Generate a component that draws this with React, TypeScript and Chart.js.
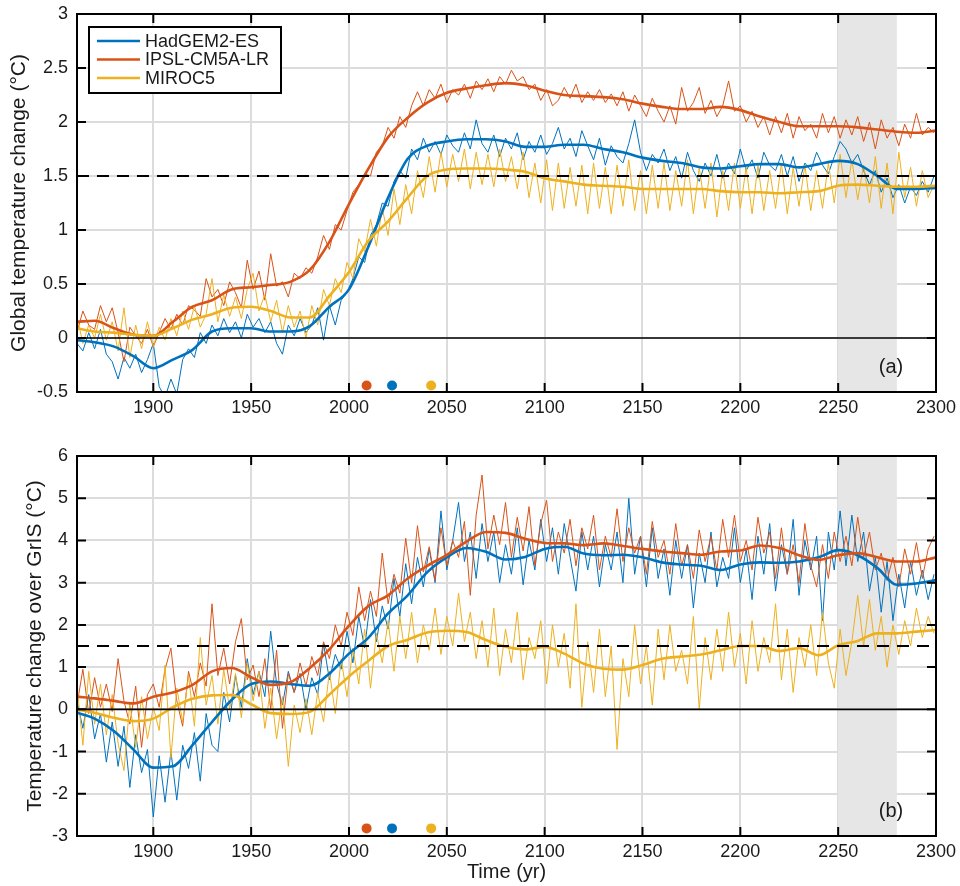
import React, { useEffect, useRef } from "react";
import { Chart, registerables } from "chart.js";

Chart.register(...registerables);

const FONT = "'Liberation Sans', Arial, Helvetica, sans-serif";
const BLUE = "#0072BD";
const RED = "#D95319";
const YELLOW = "#EDB120";

const models = ["HadGEM2-ES", "IPSL-CM5A-LR", "MIROC5"];
const modelColors = [BLUE, RED, YELLOW];

const xTickValues = [1900, 1950, 2000, 2050, 2100, 2150, 2200, 2250, 2300];
const yTicksA = [-0.5, 0, 0.5, 1, 1.5, 2, 2.5, 3];
const yTicksB = [-3, -2, -1, 0, 1, 2, 3, 4, 5, 6];

// years at which each model crosses 1.5 degC (HadGEM2-ES, IPSL-CM5A-LR, MIROC5)
const crossYears = [2022, 2009, 2042];
const thresholdLevel = 1.5;
const evalPeriod = [2250, 2280];

const thinYears = [
  1861, 1864, 1867, 1870, 1873, 1876, 1879, 1882, 1885, 1888,
  1891, 1894, 1897, 1900, 1903, 1906, 1909, 1912, 1915, 1918,
  1921, 1924, 1927, 1930, 1933, 1936, 1939, 1942, 1945, 1948,
  1951, 1954, 1957, 1960, 1963, 1966, 1969, 1972, 1975, 1978,
  1981, 1984, 1987, 1990, 1993, 1996, 1999, 2002, 2005, 2008,
  2011, 2014, 2017, 2020, 2023, 2026, 2029, 2032, 2035, 2038,
  2041, 2044, 2047, 2050, 2053, 2056, 2059, 2062, 2065, 2068,
  2071, 2074, 2077, 2080, 2083, 2086, 2089, 2092, 2095, 2098,
  2101, 2104, 2107, 2110, 2113, 2116, 2119, 2122, 2125, 2128,
  2131, 2134, 2137, 2140, 2143, 2146, 2149, 2152, 2155, 2158,
  2161, 2164, 2167, 2170, 2173, 2176, 2179, 2182, 2185, 2188,
  2191, 2194, 2197, 2200, 2203, 2206, 2209, 2212, 2215, 2218,
  2221, 2224, 2227, 2230, 2233, 2236, 2239, 2242, 2245, 2248,
  2251, 2254, 2257, 2260, 2263, 2266, 2269, 2272, 2275, 2278,
  2281, 2284, 2287, 2290, 2293, 2296, 2299,
];

const smoothYears = [
  1861, 1870, 1880, 1890, 1900, 1910, 1920, 1930, 1940, 1950,
  1960, 1970, 1980, 1990, 2000, 2010, 2020, 2030, 2040, 2050,
  2060, 2070, 2080, 2090, 2100, 2110, 2120, 2130, 2140, 2150,
  2160, 2170, 2180, 2190, 2200, 2210, 2220, 2230, 2240, 2250,
  2260, 2270, 2280, 2290, 2300,
];

// ---------- Panel (a): global temperature change ----------
const aHadThin = [
  -0.05, -0.12, 0.05, -0.10, 0.08, -0.15, -0.22, -0.38, -0.18, -0.28,
  -0.15, -0.32, -0.20, -0.05, -0.45, -0.55, -0.38, -0.52, -0.20, -0.10,
  -0.18, 0.05, -0.05, 0.12, 0.02, 0.18, 0.05, 0.15, 0.00, 0.22,
  0.10, 0.18, 0.05, 0.15, -0.05, -0.15, 0.12, 0.02, 0.18, 0.05,
  0.12, 0.28, -0.02, 0.30, 0.12, 0.35, 0.42, 0.55, 0.75, 0.70,
  0.95, 1.05, 1.25, 1.22, 1.45, 1.55, 1.48, 1.75, 1.65, 1.85,
  1.72, 1.82, 1.70, 1.88, 1.78, 1.72, 1.90, 1.75, 2.02, 1.80,
  1.72, 1.88, 1.68, 1.85, 1.75, 1.90, 1.65, 1.82, 1.72, 1.88,
  1.70, 1.80, 1.95, 1.75, 1.85, 1.68, 1.92, 1.78, 1.65, 1.85,
  1.60, 1.78, 1.68, 1.62, 1.80, 2.02, 1.72, 1.55, 1.70, 1.62,
  1.75, 1.55, 1.68, 1.48, 1.72, 1.55, 1.45, 1.62, 1.50, 1.70,
  1.48, 1.62, 1.52, 1.75, 1.55, 1.65, 1.48, 1.72, 1.60, 1.55,
  1.70, 1.50, 1.68, 1.45, 1.62, 1.55, 1.72, 1.60, 1.52, 1.68,
  1.82, 1.75, 1.62, 1.70, 1.55, 1.42, 1.55, 1.35, 1.48, 1.30,
  1.42, 1.25, 1.40, 1.32, 1.45, 1.35, 1.50,
];
const aIpslThin = [
  0.05, 0.25, 0.12, 0.08, 0.30, 0.15, 0.28, 0.05, -0.22, 0.10,
  0.02, -0.05, 0.08, -0.08, 0.05, 0.18, 0.08, 0.22, 0.12, 0.30,
  0.26, 0.20, 0.55, 0.38, 0.45, 0.30, 0.52, 0.42, 0.28, 0.72,
  0.45, 0.62, 0.35, 0.78, 0.48, 0.52, 0.38, 0.60, 0.55, 0.65,
  0.60, 0.75, 0.95, 0.82, 1.05, 1.00, 1.18, 1.35, 1.42, 1.52,
  1.50, 1.72, 1.78, 1.95, 1.85, 2.05, 1.95, 2.15, 2.28, 2.15,
  2.30, 2.22, 2.35, 2.18, 2.30, 2.25, 2.35, 2.22, 2.38, 2.30,
  2.40, 2.28, 2.42, 2.35, 2.48, 2.38, 2.42, 2.30, 2.35, 2.20,
  2.30, 2.15, 2.20, 2.32, 2.22, 2.35, 2.18, 2.28, 2.20, 2.30,
  2.18, 2.26, 2.15, 2.28, 2.10, 2.25, 2.15, 2.05, 2.22, 2.10,
  2.00, 2.15, 1.98, 2.32, 2.10, 2.18, 2.32, 2.08, 2.20, 2.05,
  2.15, 2.38, 2.10, 2.15, 2.00, 2.10, 1.95, 2.05, 1.88, 2.05,
  1.90, 2.08, 1.85, 2.05, 1.92, 1.98, 1.85, 2.08, 1.90, 2.05,
  1.85, 2.02, 1.88, 2.05, 1.82, 2.00, 1.75, 2.02, 1.85, 1.95,
  1.78, 1.98, 1.85, 2.08, 1.88, 1.95, 1.90,
];
const aMirocThin = [
  0.20, -0.05, 0.12, 0.00, 0.22, -0.02, 0.15, -0.12, 0.28, -0.18,
  0.12, -0.10, 0.15, -0.08, 0.10, -0.02, 0.18, 0.02, 0.25, 0.08,
  0.30, 0.10, 0.22, 0.55, 0.15, 0.40, 0.20, 0.38, 0.18, 0.45,
  0.60, 0.25, 0.40, 0.15, 0.35, 0.05, 0.30, 0.10, 0.25, 0.00,
  0.30, 0.12, 0.45, 0.30, 0.55, 0.42, 0.70, 0.55, 0.92, 0.80,
  1.10, 0.85, 1.20, 0.95, 1.38, 1.05, 1.42, 1.15, 1.55, 1.30,
  1.68, 1.35, 1.72, 1.40, 1.70, 1.45, 1.75, 1.38, 1.72, 1.42,
  1.70, 1.40, 1.75, 1.45, 1.68, 1.38, 1.72, 1.30, 1.62, 1.25,
  1.65, 1.18, 1.62, 1.20, 1.58, 1.22, 1.60, 1.15, 1.62, 1.20,
  1.58, 1.15, 1.60, 1.22, 1.65, 1.18, 1.55, 1.15, 1.60, 1.20,
  1.62, 1.18, 1.55, 1.22, 1.65, 1.15, 1.58, 1.20, 1.62, 1.12,
  1.55, 1.18, 1.62, 1.20, 1.58, 1.15, 1.60, 1.18, 1.55, 1.20,
  1.62, 1.15, 1.58, 1.22, 1.60, 1.18, 1.55, 1.20, 1.62, 1.25,
  1.70, 1.30, 1.65, 1.28, 1.60, 1.25, 1.68, 1.20, 1.62, 1.15,
  1.72, 1.30, 1.58, 1.22, 1.55, 1.30, 1.42,
];
const aHadSmooth = [
  -0.02, -0.04, -0.08, -0.17, -0.28, -0.20, -0.11, 0.06, 0.09, 0.09,
  0.06, 0.06, 0.11, 0.29, 0.45, 0.85, 1.30, 1.66, 1.78, 1.82,
  1.84, 1.84, 1.82, 1.77, 1.77, 1.79, 1.79, 1.75, 1.72, 1.67,
  1.64, 1.62, 1.58, 1.57, 1.59, 1.61, 1.61, 1.58, 1.61, 1.64,
  1.61, 1.50, 1.38, 1.38, 1.39,
];
const aIpslSmooth = [
  0.15, 0.16, 0.09, 0.03, 0.02, 0.15, 0.29, 0.35, 0.45, 0.47,
  0.49, 0.52, 0.63, 0.89, 1.24, 1.57, 1.86, 2.04, 2.18, 2.27,
  2.31, 2.34, 2.36, 2.34, 2.29, 2.25, 2.24, 2.23, 2.21, 2.17,
  2.14, 2.12, 2.12, 2.14, 2.11, 2.05, 2.00, 1.96, 1.96, 1.96,
  1.95, 1.93, 1.91, 1.90, 1.92,
];
const aMirocSmooth = [
  0.09, 0.06, 0.05, 0.03, 0.02, 0.09, 0.17, 0.22, 0.28, 0.29,
  0.25, 0.19, 0.19, 0.39, 0.61, 0.90, 1.08, 1.30, 1.50, 1.56,
  1.57, 1.57, 1.56, 1.54, 1.48, 1.45, 1.42, 1.41, 1.40, 1.38,
  1.38, 1.38, 1.38, 1.36, 1.35, 1.35, 1.34, 1.35, 1.36, 1.41,
  1.42, 1.41, 1.40, 1.40, 1.41,
];

// ---------- Panel (b): temperature change over GrIS ----------
const bHadThin = [
  0.20, -0.45, 0.35, -0.70, -0.10, -1.25, -0.30, -1.35, -0.40, -1.85,
  -0.60, -1.50, -0.95, -2.55, -1.10, -2.20, -1.00, -2.15, -0.85, -1.40,
  -0.55, -1.70, -0.10, -0.85, -1.00, 0.40, -0.30, 0.80, 0.05, 1.20,
  0.35, 0.90, 0.30, 1.85, 0.60, 0.10, 0.90, 0.40, 0.85, 0.00,
  0.75, 0.35, 1.55, 0.70, 1.30, 0.95, 1.85, 1.10, 2.20, 1.45,
  2.60, 1.60, 2.45, 1.90, 3.10, 2.20, 3.45, 2.50, 3.60, 2.90,
  3.80, 3.00, 4.70, 3.30, 4.00, 4.90, 3.50, 4.20, 3.10, 4.40,
  3.50, 4.20, 3.00, 3.90, 3.20, 4.30, 2.95, 4.00, 3.30, 4.50,
  3.50, 4.30, 3.20, 4.40, 3.60, 2.80, 4.20, 3.30, 4.10, 2.90,
  3.90, 3.30, 4.20, 3.00, 5.00, 3.20, 4.10, 2.90, 4.30, 3.10,
  3.80, 2.70, 4.00, 3.10, 3.90, 2.40, 3.70, 3.00, 4.20, 2.90,
  3.60, 3.10, 4.30, 3.00, 3.80, 2.60, 4.10, 3.20, 4.40, 2.80,
  3.90, 3.20, 4.50, 2.70, 4.00, 3.30, 4.10, 2.10, 4.20, 3.30,
  4.70, 3.40, 4.60, 3.50, 4.20, 2.80, 3.60, 2.30, 3.50, 2.10,
  3.20, 2.40, 3.50, 2.70, 3.30, 2.60, 3.20,
];
const bIpslThin = [
  0.10, 0.95, -0.10, 0.75, 0.05, 0.60, -0.05, 1.20, 0.20, -0.35,
  0.55, -0.90, 0.35, 0.60, 0.05, 0.95, 1.45, 0.20, -0.40, 0.90,
  0.30, 1.10, 0.55, 2.50, 0.80, 1.45, 0.60, 1.60, 2.15, 0.70,
  1.05, 0.30, 1.20, 0.00, 1.40, -0.45, 0.85, 0.40, 1.10, 0.55,
  1.25, 0.80, 1.60, 1.20, 2.00, 1.50, 2.30, 1.75, 2.90, 2.10,
  2.80, 2.20, 3.70, 2.50, 3.20, 2.75, 4.05, 3.00, 4.35, 3.25,
  3.85, 3.05, 4.30, 3.40, 4.00, 3.60, 4.45, 2.70, 4.60, 5.55,
  3.80, 4.60, 3.90, 4.90, 3.60, 4.55, 3.75, 4.80, 3.40, 4.40,
  4.95, 3.50, 4.20, 3.70, 4.50, 3.40, 4.30, 3.80, 4.60, 3.30,
  4.10, 3.60, 4.75, 3.50, 4.30, 3.70, 4.10, 3.20, 4.45, 3.60,
  4.00, 3.20, 4.40, 3.40, 3.90, 3.10, 4.25, 3.50, 4.10, 3.30,
  4.50, 3.60, 4.60, 3.50, 4.00, 3.30, 4.55, 3.70, 4.20, 3.10,
  4.30, 3.20, 3.90, 3.00, 4.40, 3.40, 2.90, 3.90, 3.10, 4.20,
  3.50, 4.10, 3.40, 4.55, 3.60, 4.20, 3.30, 3.70, 3.05, 3.60,
  2.90, 3.80, 3.20, 3.95, 3.10, 3.80, 4.10,
];
const bMirocThin = [
  0.55, -0.85, 0.90, -0.35, 0.60, -0.60, 0.35, -0.80, -1.45, 0.15,
  -0.90, 0.30, -0.70, 0.05, -0.50, 1.05, -1.15, 0.50, -0.30, 0.80,
  -0.40, 1.70, 0.10, 0.80, -0.35, 0.95, 0.00, 0.85, -0.20, 1.10,
  0.20, 0.90, -0.45, 0.50, -0.70, 0.30, -1.35, 0.10, -0.55, 0.25,
  -0.60, 0.40, -0.30, 0.90, -0.10, 1.20, 0.30, 1.45, 0.60, 1.90,
  0.50, 1.80, 1.10, 2.10, 0.90, 2.20, 1.20, 2.30, 1.10, 2.00,
  1.40, 2.40, 1.30, 2.20, 1.50, 2.75, 1.60, 2.30, 1.20, 2.10,
  1.00, 2.40, 0.80, 1.90, 1.10, 2.30, 0.70, 1.70, 1.20, 2.10,
  0.60, 2.00, 1.00, 1.80, 0.50, 2.50, 0.05, 1.60, 0.40, 1.90,
  0.30, 1.50, -0.95, 1.20, 0.30, 2.00, 0.60, 1.50, 0.10, 1.90,
  0.70, 2.00, 0.90, 1.40, 0.60, 2.20, 0.00, 1.70, 0.70, 1.90,
  0.90, 2.30, 1.00, 1.80, 0.60, 2.10, 0.90, 1.70, 1.10, 2.50,
  0.70, 1.90, 0.40, 1.70, 1.00, 2.00, 0.80, 2.30, 1.10, 0.50,
  1.90, 0.80, 1.60, 2.70, 1.50, 2.60, 1.40, 2.20, 1.00, 2.00,
  1.30, 2.10, 1.50, 2.40, 1.70, 2.20, 1.80,
];
const bHadSmooth = [
  -0.08, -0.22, -0.52, -0.96, -1.38, -1.35, -0.85, -0.30, 0.22, 0.60,
  0.66, 0.60, 0.56, 0.85, 1.32, 1.70, 2.27, 2.70, 3.25, 3.60,
  3.82, 3.73, 3.55, 3.61, 3.80, 3.85, 3.69, 3.65, 3.66, 3.60,
  3.48, 3.43, 3.40, 3.30, 3.43, 3.48, 3.47, 3.50, 3.60, 3.77,
  3.65, 3.35, 2.95, 2.98, 3.06,
];
const bIpslSmooth = [
  0.30, 0.26, 0.20, 0.14, 0.30, 0.40, 0.58, 0.90, 0.98, 0.76,
  0.58, 0.64, 0.98, 1.42, 1.98, 2.45, 2.70, 3.10, 3.40, 3.66,
  3.97, 4.20, 4.18, 4.04, 3.94, 3.93, 3.89, 3.93, 3.87, 3.80,
  3.74, 3.70, 3.66, 3.74, 3.76, 3.88, 3.82, 3.65, 3.54, 3.65,
  3.70, 3.60, 3.50, 3.50, 3.60,
];
const bMirocSmooth = [
  0.00, -0.08, -0.20, -0.28, -0.22, 0.05, 0.25, 0.33, 0.34, 0.12,
  -0.09, -0.11, -0.06, 0.35, 0.78, 1.15, 1.50, 1.65, 1.82, 1.86,
  1.83, 1.64, 1.48, 1.42, 1.48, 1.32, 1.08, 0.96, 0.94, 1.05,
  1.20, 1.25, 1.30, 1.40, 1.50, 1.50, 1.38, 1.45, 1.28, 1.52,
  1.62, 1.80, 1.80, 1.84, 1.88,
];

const GRID = "#dcdcdc";
const TEXT = "#1a1a1a";

function toXY(xs: number[], ys: number[]) {
  return xs.map((x, i) => ({ x, y: ys[i] }));
}

function thinDs(label: string, ys: number[], color: string, order: number) {
  return {
    label,
    data: toXY(thinYears, ys),
    borderColor: color,
    borderWidth: 1,
    pointRadius: 0,
    tension: 0,
    order,
  };
}

function smoothDs(label: string, ys: number[], color: string, order: number) {
  return {
    label,
    data: toXY(smoothYears, ys),
    borderColor: color,
    borderWidth: 2.6,
    pointRadius: 0,
    cubicInterpolationMode: "monotone" as const,
    order,
  };
}

function refDs(y: number, dashed: boolean, xmin: number, xmax: number) {
  return {
    label: dashed ? "1.5 threshold" : "zero",
    data: [
      { x: xmin, y },
      { x: xmax, y },
    ],
    borderColor: "#000",
    borderWidth: dashed ? 1.8 : 1.6,
    borderDash: dashed ? [12, 8] : [],
    pointRadius: 0,
    order: -1,
  };
}

function dotsDs(level: number) {
  return {
    label: "1.5 crossing",
    data: crossYears.map((x) => ({ x, y: level })),
    showLine: false,
    pointRadius: 5,
    pointHoverRadius: 5,
    pointBackgroundColor: modelColors,
    pointBorderWidth: 0,
    order: -2,
  };
}

function decorPlugin(panelLabel: string, withLegend: boolean, yTicks: number[]) {
  return {
    id: "decor" + panelLabel,
    beforeDatasetsDraw(chart: any) {
      const { ctx, chartArea, scales } = chart;
      const x0 = scales.x.getPixelForValue(evalPeriod[0]);
      const x1 = scales.x.getPixelForValue(evalPeriod[1]);
      ctx.save();
      ctx.fillStyle = "#e6e6e6";
      ctx.fillRect(x0, chartArea.top, x1 - x0, chartArea.bottom - chartArea.top);
      ctx.restore();
    },
    afterDraw(chart: any) {
      const { ctx, chartArea, scales } = chart;
      const { left, right, top, bottom } = chartArea;
      ctx.save();
      // inward ticks
      ctx.strokeStyle = "#000";
      ctx.lineWidth = 2;
      const tl = 9;
      ctx.beginPath();
      xTickValues.forEach((v) => {
        const px = scales.x.getPixelForValue(v);
        ctx.moveTo(px, bottom);
        ctx.lineTo(px, bottom - tl);
        ctx.moveTo(px, top);
        ctx.lineTo(px, top + tl);
      });
      yTicks.forEach((v) => {
        const py = scales.y.getPixelForValue(v);
        ctx.moveTo(left, py);
        ctx.lineTo(left + tl, py);
        ctx.moveTo(right, py);
        ctx.lineTo(right - tl, py);
      });
      ctx.stroke();
      // box
      ctx.lineWidth = 2;
      ctx.strokeRect(left, top, right - left, bottom - top);
      // panel label
      ctx.fillStyle = TEXT;
      ctx.font = `20px ${FONT}`;
      ctx.textAlign = "center";
      ctx.textBaseline = "middle";
      ctx.fillText(panelLabel, right - 45, bottom - 25);
      // legend
      if (withLegend) {
        const lx = left + 12;
        const ly = top + 13;
        const lw = 192;
        const lh = 66;
        ctx.fillStyle = "#fff";
        ctx.fillRect(lx, ly, lw, lh);
        ctx.strokeStyle = "#000";
        ctx.lineWidth = 2;
        ctx.strokeRect(lx, ly, lw, lh);
        ctx.font = `18px ${FONT}`;
        ctx.textAlign = "left";
        models.forEach((m, i) => {
          const yy = ly + 14 + i * 18.5;
          ctx.strokeStyle = modelColors[i];
          ctx.lineWidth = 2.6;
          ctx.beginPath();
          ctx.moveTo(lx + 8, yy);
          ctx.lineTo(lx + 51, yy);
          ctx.stroke();
          ctx.fillStyle = TEXT;
          ctx.fillText(m, lx + 56, yy + 1);
        });
      }
      ctx.restore();
    },
  };
}

const X_MIN = 1861;
const X_MAX = 2300;

function makeConfig(opts: {
  had: number[];
  ipsl: number[];
  miroc: number[];
  hadS: number[];
  ipslS: number[];
  mirocS: number[];
  yMin: number;
  yMax: number;
  yTicks: number[];
  dotLevel: number;
  yTitle: string;
  yTitlePad: number;
  xTitle: string | null;
  xAxisHeight: number;
  padTop: number;
  label: string;
  legend: boolean;
}) {
  const datasets: any[] = [
    dotsDs(opts.dotLevel),
    refDs(thresholdLevel, true, X_MIN, X_MAX),
    refDs(0, false, X_MIN, X_MAX),
    smoothDs(models[2] + " smoothed", opts.mirocS, YELLOW, 1),
    smoothDs(models[1] + " smoothed", opts.ipslS, RED, 2),
    smoothDs(models[0] + " smoothed", opts.hadS, BLUE, 3),
    thinDs(models[2], opts.miroc, YELLOW, 4),
    thinDs(models[1], opts.ipsl, RED, 5),
    thinDs(models[0], opts.had, BLUE, 6),
  ];
  return {
    type: "line" as const,
    data: { datasets },
    plugins: [decorPlugin(opts.label, opts.legend, opts.yTicks)],
    options: {
      animation: false as const,
      responsive: false,
      devicePixelRatio: 1,
      layout: { padding: { left: 0, right: 24, top: opts.padTop, bottom: 0 } },
      plugins: {
        legend: { display: false },
        tooltip: { enabled: false },
      },
      events: [],
      scales: {
        x: {
          type: "linear" as const,
          min: X_MIN,
          max: X_MAX,
          afterBuildTicks: (s: any) => {
            s.ticks = xTickValues.map((v) => ({ value: v }));
          },
          afterFit: (s: any) => {
            s.height = opts.xAxisHeight;
            s.paddingLeft = 0;
            s.paddingRight = 0;
          },
          grid: { color: GRID, lineWidth: 2, drawTicks: false },
          border: { display: false },
          ticks: {
            color: TEXT,
            font: { size: 18, family: FONT },
            padding: 5,
            maxRotation: 0,
            autoSkip: false,
            callback: (v: any) => String(v),
          },
          title: opts.xTitle
            ? {
                display: true,
                text: opts.xTitle,
                color: TEXT,
                font: { size: 20, family: FONT },
                padding: { top: 0, bottom: 2 },
              }
            : { display: false },
        },
        y: {
          type: "linear" as const,
          min: opts.yMin,
          max: opts.yMax,
          afterBuildTicks: (s: any) => {
            s.ticks = opts.yTicks.map((v) => ({ value: v }));
          },
          afterFit: (s: any) => {
            s.width = 77;
            s.paddingTop = 0;
            s.paddingBottom = 0;
          },
          grid: { color: GRID, lineWidth: 2, drawTicks: false },
          border: { display: false },
          ticks: {
            color: TEXT,
            font: { size: 18, family: FONT },
            padding: 9,
            autoSkip: false,
            callback: (v: any) => String(v),
          },
          title: {
            display: true,
            text: opts.yTitle,
            color: TEXT,
            font: { size: 21, family: FONT },
            padding: { top: opts.yTitlePad, bottom: 0 },
          },
        },
      },
    },
  };
}

export default function App() {
  const refA = useRef<HTMLCanvasElement>(null);
  const refB = useRef<HTMLCanvasElement>(null);

  useEffect(() => {
    const cfgA = makeConfig({
      had: aHadThin,
      ipsl: aIpslThin,
      miroc: aMirocThin,
      hadS: aHadSmooth,
      ipslS: aIpslSmooth,
      mirocS: aMirocSmooth,
      yMin: -0.5,
      yMax: 3,
      yTicks: yTicksA,
      dotLevel: -0.44,
      yTitle: "Global temperature change (°C)",
      yTitlePad: 7,
      xTitle: null,
      xAxisHeight: 38,
      padTop: 14,
      label: "(a)",
      legend: true,
    });
    const cfgB = makeConfig({
      had: bHadThin,
      ipsl: bIpslThin,
      miroc: bMirocThin,
      hadS: bHadSmooth,
      ipslS: bIpslSmooth,
      mirocS: bMirocSmooth,
      yMin: -3,
      yMax: 6,
      yTicks: yTicksB,
      dotLevel: -2.82,
      yTitle: "Temperature change over GrIS (°C)",
      yTitlePad: 23,
      xTitle: "Time (yr)",
      xAxisHeight: 50,
      padTop: 26,
      label: "(b)",
      legend: false,
    });
    const chartA = new Chart(refA.current as HTMLCanvasElement, cfgA as any);
    const chartB = new Chart(refB.current as HTMLCanvasElement, cfgB as any);
    return () => {
      chartA.destroy();
      chartB.destroy();
    };
  }, []);

  return (
    <div
      style={{
        position: "absolute",
        left: 0,
        top: 0,
        width: 960,
        height: 886,
        background: "#fff",
        overflow: "hidden",
      }}
    >
      <canvas
        ref={refA}
        width={960}
        height={430}
        style={{ position: "absolute", left: 0, top: 0, width: 960, height: 430, display: "block" }}
      />
      <canvas
        ref={refB}
        width={960}
        height={456}
        style={{ position: "absolute", left: 0, top: 430, width: 960, height: 456, display: "block" }}
      />
    </div>
  );
}
